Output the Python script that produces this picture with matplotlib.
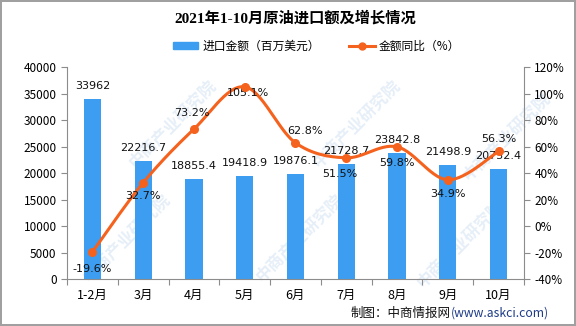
import numpy as np
import matplotlib
matplotlib.use("Agg")
import matplotlib.pyplot as plt
from matplotlib.lines import Line2D
from matplotlib.patches import Patch

plt.rcParams['font.family'] = ['Noto Sans CJK SC', 'DejaVu Sans']

# data
months = ['1-2月', '3月', '4月', '5月', '6月', '7月', '8月', '9月', '10月']
import_value = [33962, 22216.7, 18855.4, 19418.9, 19876.1, 21728.7, 23842.8, 21498.9, 20752.4]
yoy_pct = [-19.6, 32.7, 73.2, 105.1, 62.8, 51.5, 59.8, 34.9, 56.3]
bar_labels = ['33962', '22216.7', '18855.4', '19418.9', '19876.1', '21728.7', '23842.8', '21498.9', '20752.4']
# offsets of percent labels in pixels (dx, dy)
pct_offsets = [(0, -17), (0, -13), (-2, 16), (3, -6), (10, 12), (-6, -16), (0, -16), (0, -14), (0, 12)]

bar_color = '#3d9df0'
line_color = '#f5621e'
axis_color = '#8c8c8c'


def smooth_curve(x, y, n=30):
    """Catmull-Rom style bezier smoothing through every point."""
    px = np.concatenate([[x[0]], x, [x[-1]]])
    py = np.concatenate([[y[0]], y, [y[-1]]])
    xs, ys = [], []
    t = np.linspace(0, 1, n)
    for i in range(1, len(px) - 2):
        p0 = np.array([px[i], py[i]])
        p3 = np.array([px[i + 1], py[i + 1]])
        p1 = p0 + (p3 - np.array([px[i - 1], py[i - 1]])) / 6
        p2 = p3 - (np.array([px[i + 2], py[i + 2]]) - p0) / 6
        pts = ((1 - t) ** 3)[:, None] * p0 + (3 * (1 - t) ** 2 * t)[:, None] * p1 \
            + (3 * (1 - t) * t ** 2)[:, None] * p2 + (t ** 3)[:, None] * p3
        xs.extend(pts[:, 0])
        ys.extend(pts[:, 1])
    return np.array(xs), np.array(ys)


fig = plt.figure(figsize=(5.76, 3.26), dpi=100)
fig.patch.set_edgecolor('#a0a0a0')
fig.patch.set_linewidth(1.5)

# faint watermarks, kept behind the axes
for wx, wy in [(0.30, 0.62), (0.62, 0.62), (0.88, 0.58), (0.22, 0.27), (0.52, 0.27), (0.80, 0.25)]:
    fig.text(wx, wy, '中商产业研究院', rotation=45, fontsize=12, color='#e6eff8',
             ha='center', va='center', zorder=-5, fontweight='bold')

ax = fig.add_axes([0.1163, 0.1442, 0.7934, 0.650])
ax.patch.set_alpha(0)
x = np.arange(len(months))
ax.bar(x, import_value, width=0.34, color=bar_color, zorder=2)
for xi, v, lab in zip(x, import_value, bar_labels):
    ax.annotate(lab, (xi, v), xytext=(0, 13), textcoords='offset pixels', ha='center', va='center',
                fontsize=8, family=['DejaVu Sans'], color='#111111')

ax.set_xlim(-0.5, len(months) - 0.5)
ax.set_ylim(0, 40000)
ax.set_yticks(np.arange(0, 40001, 5000))
ax.set_xticks(np.arange(-0.5, len(months), 1.0))
ax.set_xticklabels([])
ax.set_xticks(x, minor=True)
ax.set_xticklabels(months, minor=True, fontsize=9)
ax.tick_params(axis='x', which='major', length=4, direction='out', color=axis_color)
ax.tick_params(axis='x', which='minor', length=0, pad=7)
ax.tick_params(axis='y', length=4, direction='out', color=axis_color, labelsize=8.5)
for s in ['top', 'right']:
    ax.spines[s].set_visible(False)
for s in ['left', 'bottom']:
    ax.spines[s].set_color(axis_color)

ax2 = ax.twinx()
sx, sy = smooth_curve(x.astype(float), np.array(yoy_pct, dtype=float))
ax2.plot(sx, sy, color=line_color, lw=2.2, zorder=3)
ax2.plot(x, yoy_pct, 'o', color=line_color, ms=5.5, zorder=4)
for xi, v, (dx, dy) in zip(x, yoy_pct, pct_offsets):
    ax2.annotate(f'{v}%', (xi, v), xytext=(dx, dy), textcoords='offset pixels', ha='center', va='center',
                 fontsize=8, family=['DejaVu Sans'], color='#111111')
ax2.set_ylim(-40, 120)
ax2.set_yticks(np.arange(-40, 121, 20))
ax2.set_yticklabels([f'{v}%' for v in range(-40, 121, 20)])
ax2.tick_params(axis='y', length=4, direction='out', color=axis_color, labelsize=8.5)
for s in ['top', 'left', 'bottom']:
    ax2.spines[s].set_visible(False)
ax2.spines['right'].set_color(axis_color)

# legend
handles = [Patch(color=bar_color, label='进口金额（百万美元）'),
           Line2D([0], [0], color=line_color, lw=2.2, marker='o', ms=5, label='金额同比（%）')]
fig.legend(handles=handles, loc='center', bbox_to_anchor=(0.549, 0.859), ncol=2, frameon=False,
           fontsize=8.5, handlelength=2.2, handleheight=0.5, columnspacing=2.5, handletextpad=0.3)

fig.text(0.512, 0.945, '2021年1-10月原油进口额及增长情况', ha='center', va='center',
         fontsize=11, fontweight='bold', family=['Liberation Serif', 'Noto Sans CJK SC'])

fig.text(0.783, 0.040, '制图：中商情报网', ha='right', va='center', fontsize=9, color='#111111')
fig.text(0.783, 0.040, '(www.askci.com)', ha='left', va='center', fontsize=8.8, color='#1f3c88')

fig.savefig('out.png', dpi=100)
